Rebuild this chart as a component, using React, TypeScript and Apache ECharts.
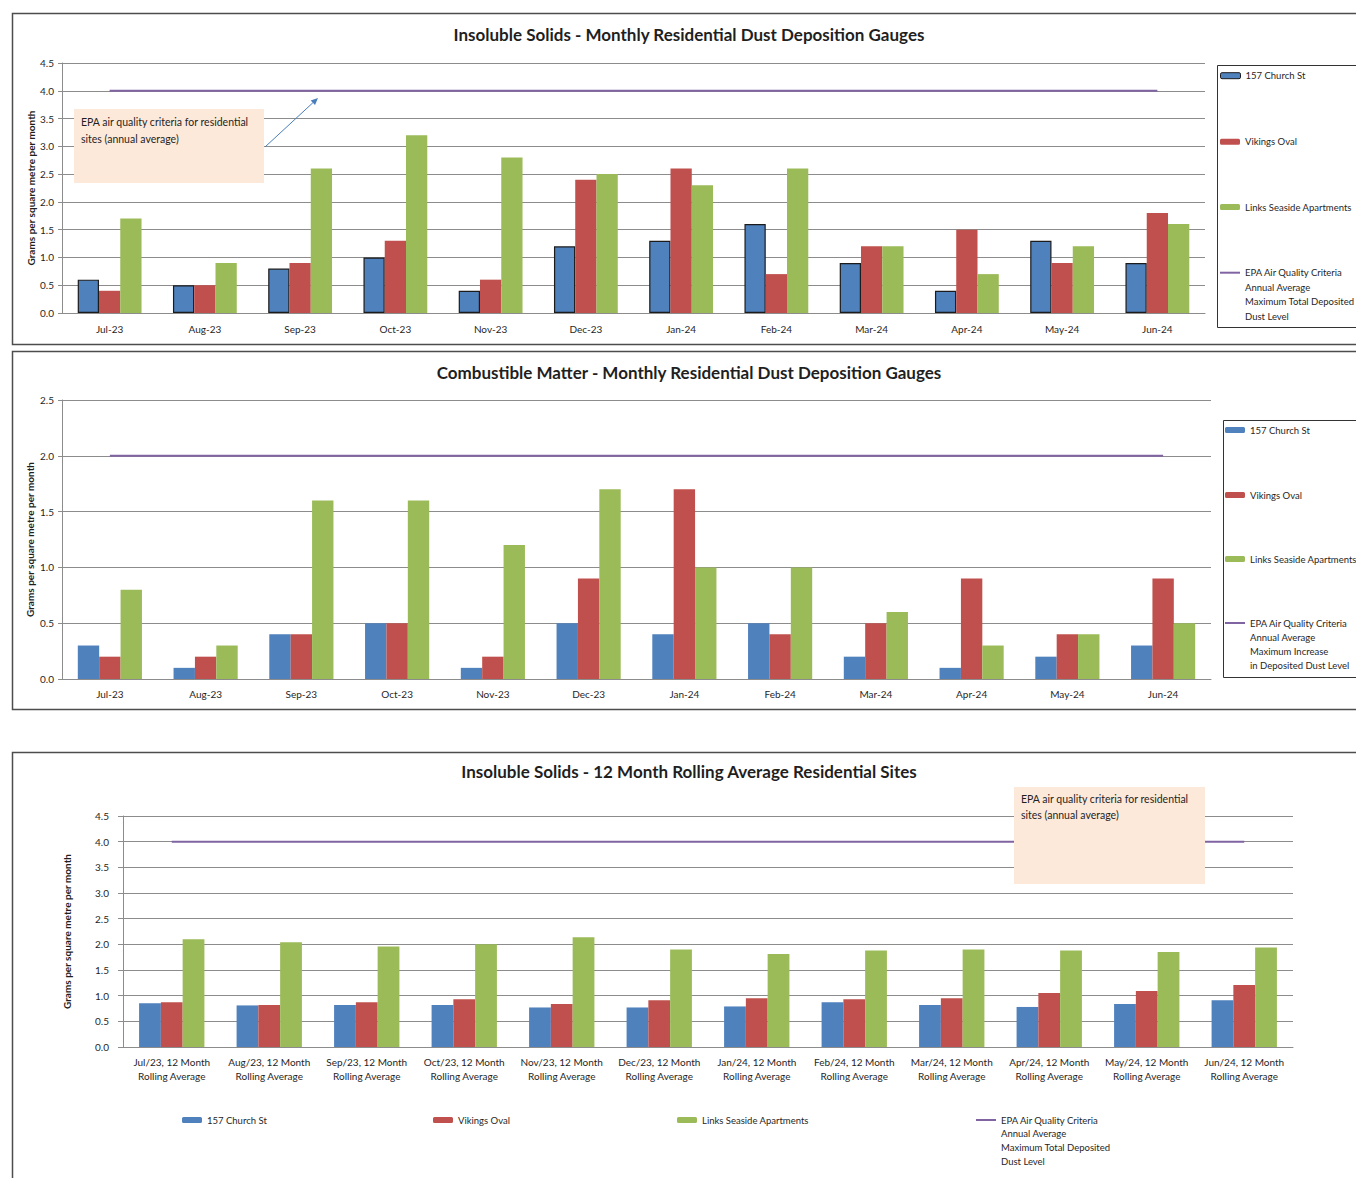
import React, { useEffect, useRef } from 'react';
import * as echarts from 'echarts';

// ---------- data ----------
const months = ['Jul-23', 'Aug-23', 'Sep-23', 'Oct-23', 'Nov-23', 'Dec-23', 'Jan-24', 'Feb-24', 'Mar-24', 'Apr-24', 'May-24', 'Jun-24'];
const rollingLabels = [
  'Jul/23, 12 Month\nRolling Average', 'Aug/23, 12 Month\nRolling Average', 'Sep/23, 12 Month\nRolling Average',
  'Oct/23, 12 Month\nRolling Average', 'Nov/23, 12 Month\nRolling Average', 'Dec/23, 12 Month\nRolling Average',
  'Jan/24, 12 Month\nRolling Average', 'Feb/24, 12 Month\nRolling Average', 'Mar/24, 12 Month\nRolling Average',
  'Apr/24, 12 Month\nRolling Average', 'May/24, 12 Month\nRolling Average', 'Jun/24, 12 Month\nRolling Average',
];

const insolChurch = [0.6, 0.5, 0.8, 1.0, 0.4, 1.2, 1.3, 1.6, 0.9, 0.4, 1.3, 0.9];
const insolVikings = [0.4, 0.5, 0.9, 1.3, 0.6, 2.4, 2.6, 0.7, 1.2, 1.5, 0.9, 1.8];
const insolLinks = [1.7, 0.9, 2.6, 3.2, 2.8, 2.5, 2.3, 2.6, 1.2, 0.7, 1.2, 1.6];
const insolCriteria = [4, 4, 4, 4, 4, 4, 4, 4, 4, 4, 4, 4];

const combChurch = [0.3, 0.1, 0.4, 0.5, 0.1, 0.5, 0.4, 0.5, 0.2, 0.1, 0.2, 0.3];
const combVikings = [0.2, 0.2, 0.4, 0.5, 0.2, 0.9, 1.7, 0.4, 0.5, 0.9, 0.4, 0.9];
const combLinks = [0.8, 0.3, 1.6, 1.6, 1.2, 1.7, 1.0, 1.0, 0.6, 0.3, 0.4, 0.5];
const combCriteria = [2, 2, 2, 2, 2, 2, 2, 2, 2, 2, 2, 2];

const rollChurch = [0.85, 0.81, 0.82, 0.82, 0.77, 0.77, 0.79, 0.87, 0.82, 0.78, 0.84, 0.91];
const rollVikings = [0.87, 0.82, 0.87, 0.93, 0.84, 0.91, 0.95, 0.93, 0.95, 1.05, 1.09, 1.21];
const rollLinks = [2.10, 2.04, 1.96, 2.00, 2.14, 1.90, 1.81, 1.88, 1.90, 1.88, 1.85, 1.94];
const rollCriteria = [4, 4, 4, 4, 4, 4, 4, 4, 4, 4, 4, 4];

const CHURCH = '157 Church St';
const VIKINGS = 'Vikings Oval';
const LINKS = 'Links Seaside Apartments';
const EPA_TOTAL = 'EPA Air Quality Criteria\nAnnual Average\nMaximum Total Deposited\nDust Level';
const EPA_INCREASE = 'EPA Air Quality Criteria\nAnnual Average\nMaximum Increase\nin Deposited Dust Level';

const titles = [
  'Insoluble Solids - Monthly Residential Dust Deposition Gauges',
  'Combustible Matter - Monthly Residential Dust Deposition Gauges',
  'Insoluble Solids - 12 Month Rolling Average Residential Sites',
];
const yName = 'Grams per square metre per month';
const noteText = 'EPA air quality criteria for residential\nsites (annual average)';

// ---------- styling ----------
const FONT = 'Lato';
const BLUE = '#4F81BD';
const RED = '#C0504D';
const GREEN = '#9BBB59';
const PURPLE = '#8064A2';
const GRID_GREY = '#8c8c8c';
const TXT = '#1f1f1f';

function buildOption() {
  const grids = [
    { left: 62, top: 63, width: 1143, height: 250 },
    { left: 62, top: 400, width: 1149, height: 279 },
    { left: 123, top: 816, width: 1170, height: 231 },
  ];

  const xMargins = [9, 8, 8];
  const xAxes = [months, months, rollingLabels].map((cats, i) => ({
    type: 'category',
    gridIndex: i,
    data: cats,
    axisLine: { lineStyle: { color: GRID_GREY, width: 1 } },
    axisTick: { show: false },
    axisLabel: {
      interval: 0,
      fontFamily: FONT,
      fontSize: 10,
      color: TXT,
      margin: xMargins[i],
      lineHeight: 14,
    },
  }));

  const yCfg = [
    { max: 4.5, nameGap: 26, margin: 8, tick: 4 },
    { max: 2.5, nameGap: 27, margin: 8, tick: 4 },
    { max: 4.5, nameGap: 51, margin: 14, tick: 5 },
  ];
  const yAxes = yCfg.map((c, i) => ({
    type: 'value',
    gridIndex: i,
    min: 0,
    max: c.max,
    interval: 0.5,
    name: yName,
    nameLocation: 'middle',
    nameGap: c.nameGap,
    nameRotate: 90,
    nameMoveOverlap: false,
    nameTextStyle: { fontFamily: FONT, fontSize: 10, fontWeight: 'bold', color: TXT },
    axisLine: { show: true, lineStyle: { color: GRID_GREY, width: 1 } },
    axisTick: { show: true, length: c.tick, lineStyle: { color: GRID_GREY } },
    axisLabel: {
      fontFamily: FONT,
      fontSize: 10,
      color: TXT,
      margin: c.margin,
      formatter: (v: number) => v.toFixed(1),
    },
    splitLine: { show: true, lineStyle: { color: GRID_GREY, width: 1 } },
  }));

  const bar = (name: string, data: number[], color: string, idx: number, border = false) => ({
    type: 'bar',
    name,
    data,
    xAxisIndex: idx,
    yAxisIndex: idx,
    barGap: '0%',
    barCategoryGap: '33%',
    itemStyle: border
      ? { color, borderColor: '#1b1b1b', borderWidth: 1.2 }
      : { color, borderWidth: 0 },
  });
  const line = (name: string, data: number[], idx: number) => ({
    type: 'line',
    name,
    data,
    xAxisIndex: idx,
    yAxisIndex: idx,
    symbol: 'none',
    showSymbol: false,
    lineStyle: { color: PURPLE, width: 2 },
    itemStyle: { color: PURPLE },
  });

  const series = [
    bar(CHURCH, insolChurch, BLUE, 0, true),
    bar(VIKINGS, insolVikings, RED, 0),
    bar(LINKS, insolLinks, GREEN, 0),
    line(EPA_TOTAL, insolCriteria, 0),
    bar(CHURCH, combChurch, BLUE, 1),
    bar(VIKINGS, combVikings, RED, 1),
    bar(LINKS, combLinks, GREEN, 1),
    line(EPA_INCREASE, combCriteria, 1),
    bar(CHURCH, rollChurch, BLUE, 2),
    bar(VIKINGS, rollVikings, RED, 2),
    bar(LINKS, rollLinks, GREEN, 2),
    line(EPA_TOTAL, rollCriteria, 2),
  ];

  // single-item legends; multi-line item gets 3 blank lines on top so that
  // its first line is centred on the legend icon
  const legendItem = (
    name: string,
    left: number,
    centerY: number,
    lh: number,
    multi: boolean,
    itemStyle?: any,
  ) => ({
    data: [
      multi
        ? { name, icon: 'rect', itemStyle: { color: PURPLE, borderWidth: 0 } }
        : itemStyle
        ? { name, itemStyle }
        : { name },
    ],
    left,
    top: multi ? centerY - 3.5 * lh : centerY - lh / 2,
    padding: 0,
    itemWidth: 20,
    itemHeight: multi ? 2 : 6,
    selectedMode: false,
    formatter: (n: string) => (multi ? '\n\n\n' + n : n),
    textStyle: {
      fontFamily: FONT,
      fontSize: 9.5,
      color: TXT,
      lineHeight: lh,
    },
  });

  const legends = [
    legendItem(CHURCH, 1220, 75.7, 14.6, false, { borderColor: '#1b1b1b', borderWidth: 1 }),
    legendItem(VIKINGS, 1220, 141.7, 14.6, false),
    legendItem(LINKS, 1220, 207, 14.6, false),
    legendItem(EPA_TOTAL, 1220, 272.7, 14.6, true),
    legendItem(CHURCH, 1225, 430, 14.3, false, { borderWidth: 0 }),
    legendItem(VIKINGS, 1225, 495, 14.3, false),
    legendItem(LINKS, 1225, 559, 14.3, false),
    legendItem(EPA_INCREASE, 1225, 623, 14.3, true),
    legendItem(CHURCH, 182, 1120, 13.8, false, { borderWidth: 0 }),
    legendItem(VIKINGS, 433, 1120, 13.8, false),
    legendItem(LINKS, 677, 1120, 13.8, false),
    legendItem(EPA_TOTAL, 976, 1120, 13.8, true),
  ];

  const titleCfg = [
    { text: titles[0], top: 26 },
    { text: titles[1], top: 364 },
    { text: titles[2], top: 763 },
  ].map((t) => ({
    text: t.text,
    left: 689,
    top: t.top,
    padding: 0,
    textAlign: 'center',
    textStyle: { fontFamily: FONT, fontSize: 17, fontWeight: 'bold', color: TXT },
  }));

  // arrow head computation for chart 1 annotation
  const ax0 = 265, ay0 = 147, ax1 = 318, ay1 = 98;
  const len = Math.hypot(ax1 - ax0, ay1 - ay0);
  const dx = (ax1 - ax0) / len, dy = (ay1 - ay0) / len;
  const hl = 7, hw = 3.2;
  const bx = ax1 - dx * hl, by = ay1 - dy * hl;
  const nx = -dy, ny = dx;

  const graphic = [
    // panel frames
    { type: 'rect', z: 0, silent: true, shape: { x: 12.5, y: 13.5, width: 1360, height: 331 }, style: { fill: 'none', stroke: '#4d4d4d', lineWidth: 1.5 } },
    { type: 'rect', z: 0, silent: true, shape: { x: 12.5, y: 351.5, width: 1360, height: 358 }, style: { fill: 'none', stroke: '#4d4d4d', lineWidth: 1.5 } },
    { type: 'rect', z: 0, silent: true, shape: { x: 12.5, y: 752.5, width: 1360, height: 440 }, style: { fill: 'none', stroke: '#4d4d4d', lineWidth: 1.5 } },
    // legend frames
    { type: 'rect', z: 0, silent: true, shape: { x: 1217.5, y: 65.5, width: 200, height: 262 }, style: { fill: 'none', stroke: '#333', lineWidth: 1 } },
    { type: 'rect', z: 0, silent: true, shape: { x: 1223.5, y: 420.5, width: 200, height: 257 }, style: { fill: 'none', stroke: '#333', lineWidth: 1 } },
    // annotation chart 1
    { type: 'rect', z: 100, silent: true, shape: { x: 74, y: 109, width: 190, height: 74 }, style: { fill: '#FDE9D9' } },
    { type: 'text', z: 101, silent: true, x: 81, y: 113, style: { text: noteText, fontFamily: FONT, fontSize: 10.5, lineHeight: 17, fill: TXT } },
    { type: 'line', z: 101, silent: true, shape: { x1: ax0, y1: ay0, x2: bx, y2: by }, style: { stroke: '#4A7EBB', lineWidth: 1 } },
    {
      type: 'polygon', z: 101, silent: true,
      shape: { points: [[ax1, ay1], [bx + nx * hw, by + ny * hw], [bx - nx * hw, by - ny * hw]] },
      style: { fill: '#4A7EBB' },
    },
    // annotation chart 3
    { type: 'rect', z: 100, silent: true, shape: { x: 1014, y: 787, width: 191, height: 97 }, style: { fill: '#FDE9D9' } },
    { type: 'text', z: 101, silent: true, x: 1021, y: 791, style: { text: noteText, fontFamily: FONT, fontSize: 10.5, lineHeight: 16, fill: TXT } },
  ];

  return {
    animation: false,
    backgroundColor: '#ffffff',
    textStyle: { fontFamily: FONT },
    title: titleCfg,
    grid: grids,
    xAxis: xAxes,
    yAxis: yAxes,
    legend: legends,
    series,
    graphic,
  };
}

export default function App() {
  const ref = useRef<HTMLDivElement>(null);
  useEffect(() => {
    if (!ref.current) return;
    const chart = echarts.init(ref.current, null, { renderer: 'svg' });
    chart.setOption(buildOption() as any);
    return () => chart.dispose();
  }, []);
  return (
    <div
      ref={ref}
      style={{ position: 'absolute', left: 0, top: 0, width: 1356, height: 1178 }}
    />
  );
}
